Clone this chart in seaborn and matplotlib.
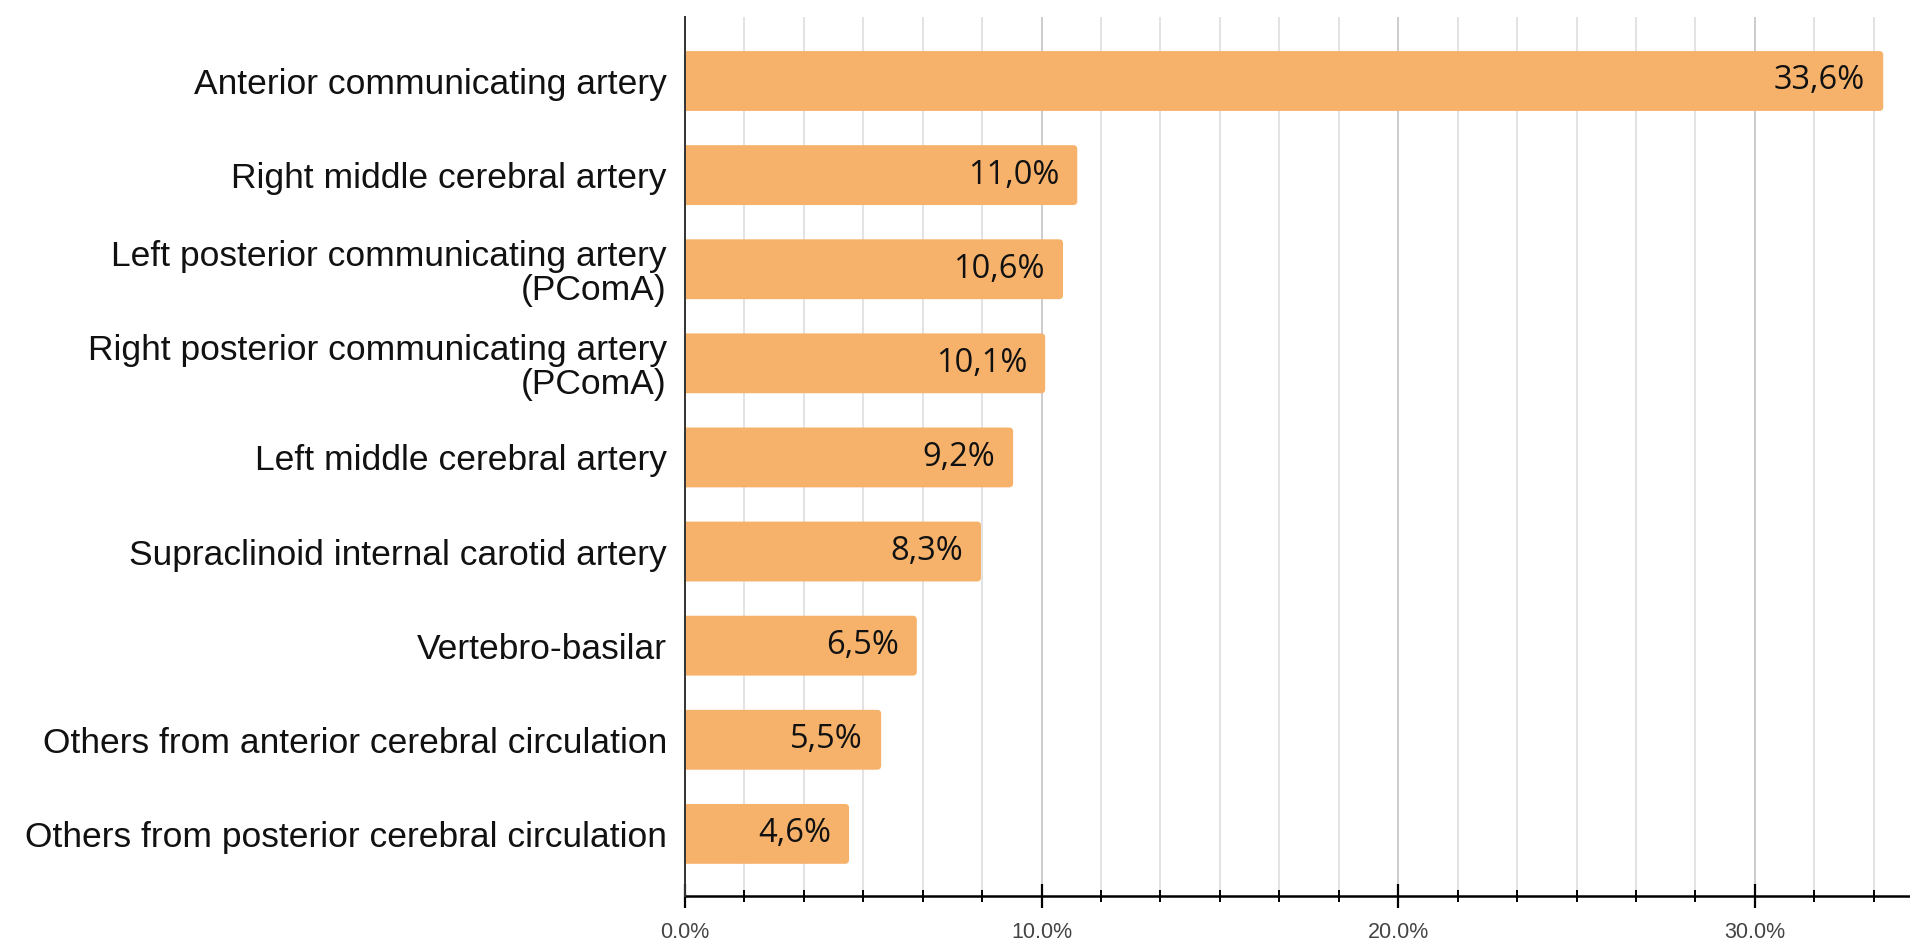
import matplotlib
matplotlib.use("Agg")
import matplotlib.pyplot as plt
from matplotlib.patches import FancyBboxPatch
from matplotlib.ticker import MultipleLocator, FuncFormatter
import seaborn as sns
import pandas as pd

categories = [
    "Anterior communicating artery",
    "Right middle cerebral artery",
    "Left posterior communicating artery\n(PComA)",
    "Right posterior communicating artery\n(PComA)",
    "Left middle cerebral artery",
    "Supraclinoid internal carotid artery",
    "Vertebro-basilar",
    "Others from anterior cerebral circulation",
    "Others from posterior cerebral circulation",
]
shares = [33.6, 11.0, 10.6, 10.1, 9.2, 8.3, 6.5, 5.5, 4.6]
x_major_ticks = [0, 10, 20, 30]

BAR_COLOR = "#f6b26b"

df = pd.DataFrame({"location": categories, "share": shares})

sns.set_theme(style="white")
plt.rcParams["font.family"] = ["Liberation Sans", "DejaVu Sans"]

fig = plt.figure(figsize=(19.10, 9.39), dpi=100)
ax = fig.add_axes([685 / 1910, 1 - 896 / 939, 1 - 685 / 1910, (896 - 17) / 939])

sns.barplot(data=df, x="share", y="location", orient="h", color=BAR_COLOR,
            saturation=1, width=0.636, ax=ax, zorder=3)

ax.set_xlim(0, 34.35)
ax.set_ylim(len(categories) - 1 + 0.66, -0.68)

# give the bar ends slightly rounded corners (left side is tucked behind the axis)
px_x = 34.35 / (1910 - 685)
px_y = (len(categories) - 1 + 0.66 + 0.68) / (896 - 17)
r = 4 * px_x
for bar in list(ax.containers[0]):
    x0, y0, w, h = bar.get_x(), bar.get_y(), bar.get_width(), bar.get_height()
    rounded = FancyBboxPatch((x0 - r, y0), w + r, h,
                             boxstyle=f"round,pad=0,rounding_size={r}",
                             mutation_aspect=px_y / px_x,
                             facecolor=BAR_COLOR, edgecolor="none", zorder=3)
    ax.add_patch(rounded)
    bar.set_visible(False)

# value labels inside the bar ends
labels = [f"{v:.1f}".replace(".", ",") + "%" for v in shares]
texts = ax.bar_label(ax.containers[0], labels=labels, label_type="edge",
                     padding=-13, fontsize=23.5, color="#111111", family="Open Sans")
for t in texts:
    t.set_ha("right")
    t.set_visible(True)
    t.set_zorder(5)

ax.xaxis.set_major_locator(plt.FixedLocator(x_major_ticks))
ax.xaxis.set_minor_locator(MultipleLocator(10 / 6))
ax.xaxis.set_major_formatter(FuncFormatter(lambda v, p: f"{v:.1f}%"))

ax.grid(False)
ax.grid(True, axis="x", which="minor", color="#e3e3e3", linewidth=1.4, zorder=0)
ax.grid(True, axis="x", which="major", color="#cccccc", linewidth=1.4, zorder=0)
ax.set_axisbelow(True)

ax.tick_params(axis="x", which="both", bottom=True)
ax.tick_params(axis="x", which="major", direction="inout", length=17, width=1.6,
               color="black", pad=10, labelsize=15.5, labelcolor="#444444")
ax.tick_params(axis="x", which="minor", direction="inout", length=9, width=1.4,
               color="black")

ax.tick_params(axis="y", which="both", length=0, pad=13, labelsize=25.5,
               labelcolor="#111111")
for lab in ax.get_yticklabels():
    lab.set_linespacing(1.05)

ax.set_xlabel("")
ax.set_ylabel("")

for side in ("top", "right"):
    ax.spines[side].set_visible(False)
ax.spines["left"].set_color("#333333")
ax.spines["left"].set_linewidth(1.4)
ax.spines["left"].set_zorder(6)
ax.spines["bottom"].set_color("black")
ax.spines["bottom"].set_linewidth(1.8)

fig.savefig("out.png", dpi=100, facecolor="white")
